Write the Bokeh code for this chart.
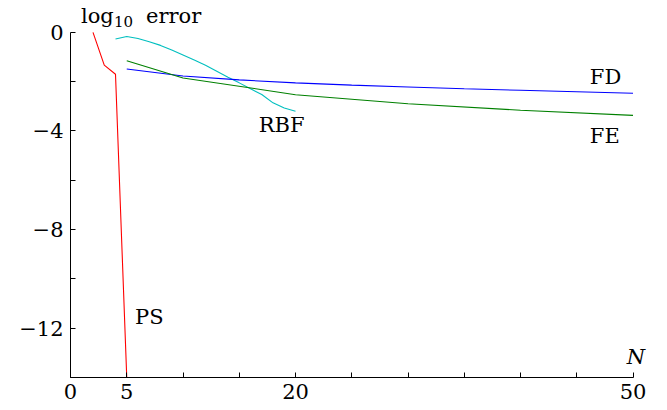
from bokeh.plotting import figure
from bokeh.models import Range1d, FixedTicker, Label
from bokeh.embed import file_html
from bokeh.resources import INLINE

# ---- data ----
ps_n = [2, 3, 4, 5]
ps_err = [0.0, -1.33, -1.70, -14.0]

rbf_n = [4, 5, 6, 7, 8, 9, 10, 11, 12, 13, 14, 15, 16, 17, 18, 19, 20]
rbf_err = [-0.27, -0.17, -0.25, -0.38, -0.53, -0.72, -0.92, -1.12, -1.34,
           -1.58, -1.82, -2.05, -2.29, -2.52, -2.86, -3.07, -3.20]

fd_n = [5, 10, 15, 20, 25, 30, 35, 40, 45, 50]
fd_err = [-1.49, -1.77, -1.93, -2.05, -2.14, -2.22, -2.29, -2.35, -2.41, -2.47]

fe_n = [5, 10, 20, 30, 40, 50]
fe_err = [-1.15, -1.85, -2.53, -2.90, -3.16, -3.37]

x_ticks = [0, 5, 10, 15, 20, 25, 30, 35, 40, 45, 50]
x_labels = {0: "0", 5: "5", 20: "20", 50: "50"}
y_ticks = [0, -2, -4, -6, -8, -10, -12, -14]
y_labels = {0: "0", -4: "\u22124", -8: "\u22128", -12: "\u221212"}

FONT = "DejaVu Serif"
FS = "21px"

p = figure(width=659, height=408, output_backend="svg", toolbar_location=None,
           x_range=Range1d(0, 52), y_range=Range1d(-14, 1.25),
           min_border_left=70, min_border_right=4, min_border_top=1,
           min_border_bottom=31)
p.xgrid.visible = False
p.ygrid.visible = False
p.outline_line_color = None
p.background_fill_color = "white"
p.border_fill_color = "white"

p.line(ps_n, ps_err, line_color="#ff0000", line_width=1.1)
p.line(rbf_n, rbf_err, line_color="#00bfbf", line_width=1.1)
p.line(fd_n, fd_err, line_color="#0000ff", line_width=1.1)
p.line(fe_n, fe_err, line_color="#008000", line_width=1.1)

for ax, ticks, labels, standoff, bounds in (
        (p.xaxis[0], x_ticks, x_labels, 6, (0, 50)),
        (p.yaxis[0], y_ticks, y_labels, 7, (-14, 0))):
    ax.ticker = FixedTicker(ticks=ticks)
    ax.bounds = bounds
    ax.major_label_overrides = {t: labels.get(t, "") for t in ticks}
    ax.minor_tick_line_color = None
    ax.major_tick_in = 5
    ax.major_tick_out = 0
    ax.axis_line_color = "black"
    ax.major_tick_line_color = "black"
    ax.major_label_text_font = FONT
    ax.major_label_text_font_size = FS
    ax.major_label_text_color = "black"
    ax.major_label_standoff = standoff

def lab(x, y, t, size=FS, align="center", style="normal"):
    p.add_layout(Label(x=x, y=y, text=t, text_font=FONT, text_font_size=size,
                       text_align=align, text_baseline="alphabetic",
                       y_offset=7,
                       text_color="black", text_font_style=style))

lab(0.93, 0.37, "log", align="left")
lab(3.87, 0.14, "10", size="15px", align="left")
lab(6.71, 0.37, "error", align="left")
lab(18.77, -4.06, "RBF")
lab(47.56, -2.09, "FD")
lab(47.49, -4.49, "FE")
lab(7.01, -11.83, "PS")
lab(50.25, -13.46, "N", style="italic")

open("out.html", "w").write(file_html(p, INLINE))
